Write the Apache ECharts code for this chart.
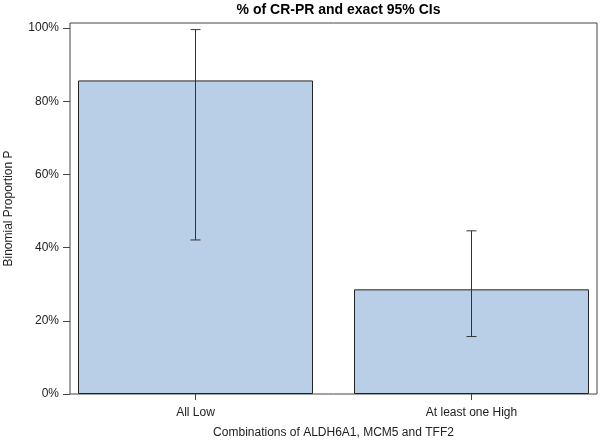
<!DOCTYPE html>
<html>
<head>
<meta charset="utf-8">
<script src="https://cdn.jsdelivr.net/npm/echarts@6/dist/echarts.min.js"></script>
<style>html,body{margin:0;padding:0;background:#fff;}#c{width:600px;height:441px;}</style>
</head>
<body>
<div id="c"></div>
<script>
var categories = ['All Low', 'At least one High'];
var proportions = [85.7, 28.6];
var ciLower = [42.1, 15.7];
var ciUpper = [99.6, 44.6];
var yTicks = [0, 20, 40, 60, 80, 100];

var FONT = 'Liberation Sans, Arial, sans-serif';
var chart = echarts.init(document.getElementById('c'), null, {renderer: 'canvas'});

var errData = categories.map(function (c, i) { return [i, ciLower[i], ciUpper[i]]; });

var option = {
  animation: false,
  backgroundColor: '#fff',
  title: {
    text: '% of CR-PR and exact 95% CIs',
    left: 333.5,
    textAlign: 'center',
    top: -2,
    textStyle: {fontFamily: FONT, fontWeight: 'bold', fontSize: 14, color: '#000'}
  },
  grid: [
    {left: 70, right: 3, top: 23, bottom: 47, show: true, borderColor: '#444', borderWidth: 1,
     backgroundColor: 'transparent', containLabel: false, outerBoundsMode: 'none'},
    {left: 57.5, width: 552, top: 23, bottom: 47, containLabel: false, outerBoundsMode: 'none'}
  ],
  xAxis: [
    {gridIndex: 0, type: 'value', show: false, min: 0, max: 1},
    {
      gridIndex: 1, type: 'category', data: categories,
      axisLine: {show: false},
      axisTick: {show: true, alignWithLabel: true, length: 6, lineStyle: {color: '#444'}},
      axisLabel: {fontFamily: FONT, fontSize: 12, color: '#222', margin: 13},
      name: 'Combinations of ALDH6A1, MCM5 and TFF2',
      nameLocation: 'middle', nameGap: 33,
      nameTextStyle: {fontFamily: FONT, fontSize: 12, color: '#222'}
    }
  ],
  yAxis: [
    {
      gridIndex: 0, type: 'value', min: 0, max: 101.4, interval: 20,
      axisLine: {show: false},
      splitLine: {show: false},
      axisTick: {show: true, length: 7, lineStyle: {color: '#444'}, customValues: yTicks},
      axisLabel: {fontFamily: FONT, fontSize: 12, color: '#222', margin: 11, customValues: yTicks,
        formatter: function (v) { return v + '%'; }},
      name: 'Binomial Proportion P',
      nameLocation: 'middle', nameGap: 55,
      nameTextStyle: {fontFamily: FONT, fontSize: 12, color: '#222'}
    },
    {gridIndex: 1, type: 'value', min: 0, max: 101.4, show: false}
  ],
  series: [
    {
      type: 'bar', xAxisIndex: 1, yAxisIndex: 1, data: proportions, barWidth: 235,
      itemStyle: {color: '#b9cfe8', borderColor: '#222', borderWidth: 1}
    },
    {
      type: 'custom', xAxisIndex: 1, yAxisIndex: 1, data: errData,
      encode: {x: 0, y: [1, 2]},
      renderItem: function (params, api) {
        var x = api.value(0);
        var lo = api.coord([x, api.value(1)]);
        var hi = api.coord([x, api.value(2)]);
        var hw = 5;
        var st = {stroke: '#333', lineWidth: 1};
        return {
          type: 'group',
          children: [
            {type: 'line', shape: {x1: lo[0], y1: lo[1], x2: hi[0], y2: hi[1]}, style: st},
            {type: 'line', shape: {x1: lo[0] - hw, y1: lo[1], x2: lo[0] + hw, y2: lo[1]}, style: st},
            {type: 'line', shape: {x1: hi[0] - hw, y1: hi[1], x2: hi[0] + hw, y2: hi[1]}, style: st}
          ]
        };
      },
      z: 5
    }
  ]
};
chart.setOption(option);
</script>
</body>
</html>
